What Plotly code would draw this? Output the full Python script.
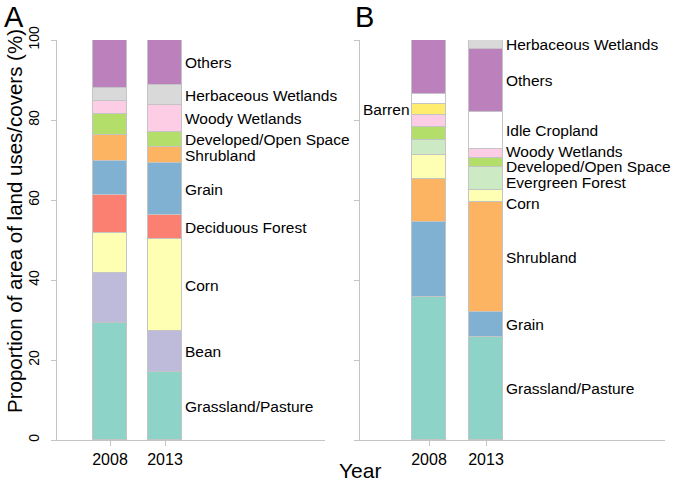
import plotly.graph_objects as go

# ---------------- data ----------------
years = ["2008", "2013"]

# Panel A (stack order bottom -> top)
cats_a = ["Grassland/Pasture", "Bean", "Corn", "Deciduous Forest", "Grain",
          "Shrubland", "Developed/Open Space", "Woody Wetlands",
          "Herbaceous Wetlands", "Others"]
a_2008 = [29.2, 12.5, 10.0, 9.5, 8.5, 6.5, 5.2, 3.3, 3.2, 12.1]
a_2013 = [17.0, 10.2, 23.0, 6.0, 13.0, 4.1, 3.8, 6.6, 5.1, 11.2]

# Panel B (stack order bottom -> top)
cats_b = ["Grassland/Pasture", "Grain", "Shrubland", "Corn", "Evergreen Forest",
          "Developed/Open Space", "Woody Wetlands", "Barren", "Idle Cropland",
          "Others", "Herbaceous Wetlands"]
b_2008 = [35.7, 18.7, 10.8, 6.1, 3.8, 3.2, 2.9, 2.7, 2.6, 13.5, None]
b_2013 = [25.8, 6.2, 27.5, 2.9, 5.8, 2.3, 2.3, None, 9.2, 15.7, 2.3]

colors = {
    "Grassland/Pasture": "#8DD3C7", "Bean": "#BEBADA", "Corn": "#FFFFB3",
    "Deciduous Forest": "#FB8072", "Grain": "#80B1D3", "Shrubland": "#FDB462",
    "Developed/Open Space": "#B3DE69", "Woody Wetlands": "#FCCDE5",
    "Herbaceous Wetlands": "#D9D9D9", "Others": "#BC80BD",
    "Evergreen Forest": "#CCEBC5", "Barren": "#FFED6F", "Idle Cropland": "#FFFFFF",
}

yticks = [0, 20, 40, 60, 80, 100]

# label nudges (in % units) for crowded labels in panel B
nudge_b = {"Woody Wetlands": 0.6, "Developed/Open Space": -0.85,
           "Evergreen Forest": -0.8, "Corn": -1.7}

# ---------------- layout geometry ----------------
L, R, T, B = 57, 12, 40, 44
W = 677 - L - R
H = 484 - T - B
def px_x(p):
    return (p - L) / W
def px_y(p):
    return (T + H - p) / H

FONT = "Arial, Liberation Sans, sans-serif"
LINE = "#c4c4c4"
LBL = 15.5
wa, wb = 0.62, 0.6

fig = go.Figure()

for i, c in enumerate(cats_a):
    fig.add_trace(go.Bar(x=years, y=[a_2008[i], a_2013[i]], name=c,
                         marker=dict(color=colors[c], line=dict(color=LINE, width=1)),
                         width=wa, xaxis="x", yaxis="y", showlegend=False))
for i, c in enumerate(cats_b):
    fig.add_trace(go.Bar(x=years, y=[b_2008[i], b_2013[i]], name=c,
                         marker=dict(color=colors[c], line=dict(color=LINE, width=1)),
                         width=wb, xaxis="x2", yaxis="y2", showlegend=False))

annotations = []
# Panel A labels next to 2013 bar
cum = 0
for c, v in zip(cats_a, a_2013):
    mid = cum + v / 2
    cum += v
    annotations.append(dict(x=1 + wa / 2, y=mid, xref="x", yref="y", text=c,
                            showarrow=False, xanchor="left", yanchor="middle",
                            xshift=1, font=dict(family=FONT, size=LBL, color="black")))
# Panel B labels next to 2013 bar
cum = 0
for c, v in zip(cats_b, b_2013):
    if v is None:
        continue
    mid = cum + v / 2 + nudge_b.get(c, 0)
    cum += v
    annotations.append(dict(x=1 + wb / 2, y=mid, xref="x2", yref="y2", text=c,
                            showarrow=False, xanchor="left", yanchor="middle",
                            xshift=1, font=dict(family=FONT, size=LBL, color="black")))
# Barren label left of B 2008 bar
cum = 0
for c, v in zip(cats_b, b_2008):
    if v is None:
        continue
    if c == "Barren":
        annotations.append(dict(x=0 - wb / 2, y=cum + v / 2, xref="x2", yref="y2",
                                text=c, showarrow=False, xanchor="right",
                                yanchor="middle", xshift=0,
                                font=dict(family=FONT, size=LBL, color="black")))
    cum += v

# Titles / panel letters
annotations += [
    dict(x=px_x(14), y=px_y(221), xref="paper", yref="paper", showarrow=False,
         text="Proportion of area of land uses/covers (%)", textangle=-90,
         xanchor="center", yanchor="middle", font=dict(family=FONT, size=20.5, color="black")),
    dict(x=px_x(360), y=px_y(470), xref="paper", yref="paper", showarrow=False,
         text="Year", xanchor="center", yanchor="middle",
         font=dict(family=FONT, size=21, color="black")),
    dict(x=px_x(14), y=px_y(17), xref="paper", yref="paper", showarrow=False,
         text="A", xanchor="center", yanchor="middle",
         font=dict(family=FONT, size=29, color="black")),
    dict(x=px_x(364), y=px_y(17), xref="paper", yref="paper", showarrow=False,
         text="B", xanchor="center", yanchor="middle",
         font=dict(family=FONT, size=29, color="black")),
]

axis_common = dict(showline=True, linecolor=LINE, linewidth=1, showgrid=False,
                   zeroline=False, ticks="outside", tickcolor=LINE, ticklen=5)

fig.update_layout(
    width=677, height=484,
    margin=dict(l=L, r=R, t=T, b=B),
    paper_bgcolor="white", plot_bgcolor="white",
    barmode="stack", bargap=0,
    annotations=annotations,
    xaxis=dict(domain=[0, px_x(325)], type="category",
               range=[(57 - 110) / 55, (325 - 110) / 55],
               tickfont=dict(family=FONT, size=16, color="black"), **axis_common),
    xaxis2=dict(domain=[px_x(360), 1], type="category",
                range=[(360 - 429) / 57, (665 - 429) / 57], anchor="y2",
                tickfont=dict(family=FONT, size=16, color="black"), **axis_common),
    yaxis=dict(range=[0, 100], tickvals=yticks, tickangle=-90,
               tickfont=dict(family=FONT, size=14, color="black"),
               ticklabelstandoff=6, **axis_common),
    yaxis2=dict(range=[0, 100], tickvals=yticks, anchor="x2", showticklabels=False,
                **axis_common),
)

fig.write_html("out.html", config={"displayModeBar": False},
               post_script="document.body.style.margin='0';document.body.style.padding='0';")
